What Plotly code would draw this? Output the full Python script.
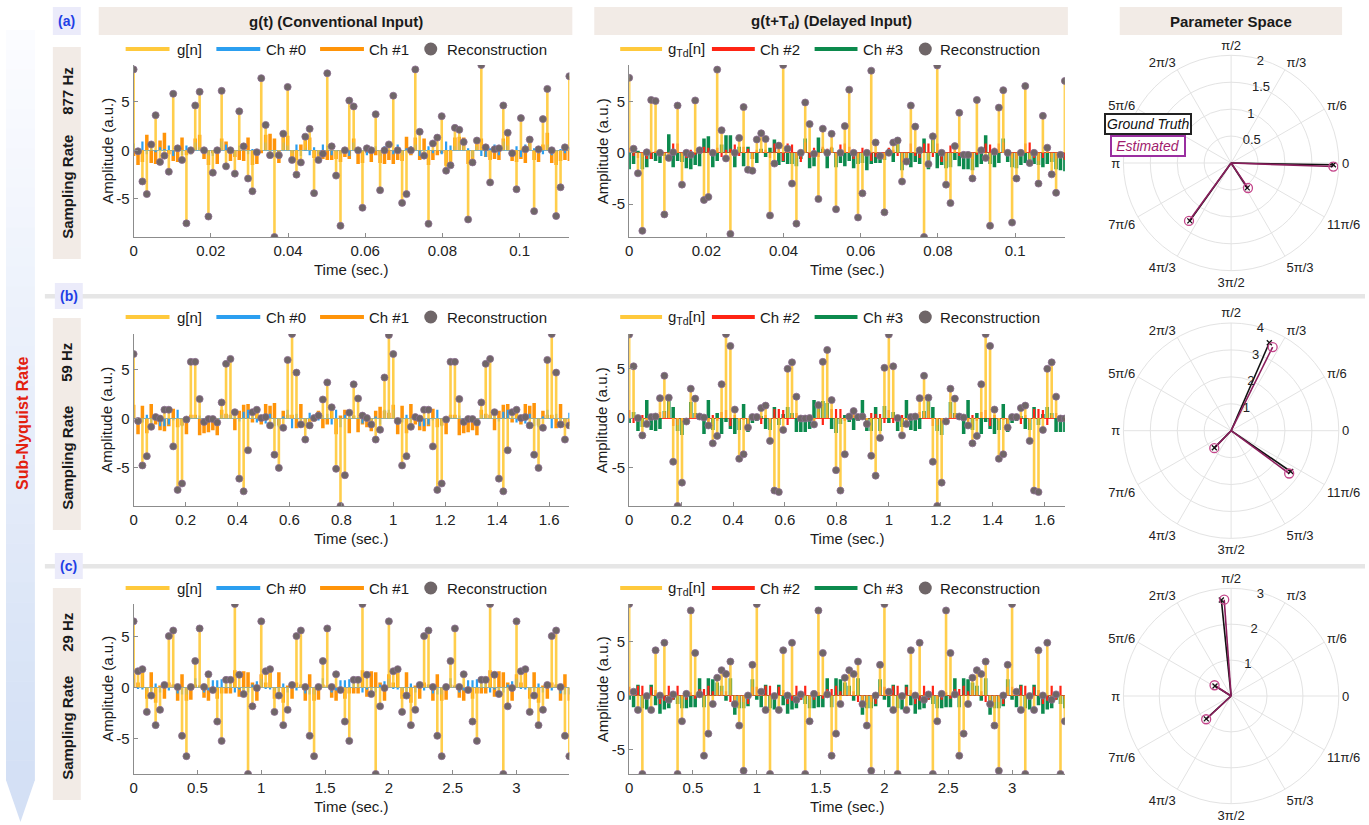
import plotly.graph_objects as go

W, H = 1369, 825
FONT = "Liberation Sans, Arial, Helvetica, sans-serif"

# ---------------- sampling rates ----------------
fs_a, fs_b, fs_c = 877.0, 59.0, 29.0

# ---------------- row (a): 877 Hz ----------------
g_a = [8.3, -0.1, -3.2, -4.5, 0.6, 3.6, -1.2, -0.55, -2.2, 5.8,
       0.2, -1.0, -7.5, 0.0, 4.6, 6.0, 0.0, -6.8, -2.3, 0.0,
       6.1, -1.65, 0.0, -2.4, 4.0, 0.4, -2.9, -4.2, -0.2, 7.4,
       2.6, -0.5, -8.9, -0.5, 1.7, 6.5, -1.0, -2.5, -1.25, 1.4,
       2.2, -4.4, -1.0, -0.35, 7.9, 0.4, -2.6, -7.75, 0.0, 5.1,
       4.5, 0.0, -5.9, 0.2, 0.0, 3.7, -4.1, 0.0, 0.6, 5.6,
       0.0, -5.4, -4.5, 0.0, 8.3, 1.9, -0.55, -7.55, 0.7, 1.3,
       3.5, -2.1, -1.55, 2.3, 2.1, 0.85, -7.1, -1.25, 1.0, 8.75,
       0.3, -3.3, 0.1, 0.2, 4.6, 1.8, -0.3, -4.0, 3.3, 0.1,
       1.1, -6.25, 0.1, 3.2, 6.3, 0.0, -6.75, -3.8, 0.3, 7.6]
ch0_a = [0.7, -0.3, 0.9, -0.4, 0.9, -0.2, 0.3, 0.1, 0.5, -0.6,
         0.4, -0.5, 0.5, -0.4, 0.8, 0.3, 0.2, -0.5, -0.6, 0.3,
         0.9, 0.6, 0.0, -0.6, 0.5, 0.4, -0.4, 0.1, -0.2, 0.0,
         0.8, -0.7, -0.7, -0.6, 0.8, 0.5, -0.3, 0.6, -0.6, 0.2,
         -0.5, 0.3, -0.4, 0.6, 0.5, -0.5, -0.2, -0.4, 0.3, -0.6,
         0.8, 0.3, -0.2, -0.5, 0.2, 0.4, -0.6, 0.4, 0.0, -0.4,
         0.6, -0.5, 0.2, 0.4, 0.6, -0.6, -0.4, 0.4, -0.3, 0.0,
         -0.4, 0.9, 0.5, 0.4, 0.8, 0.5, 0.2, -0.7, 0.4, -0.6,
         -0.7, 0.2, 0.6, -0.5, 0.9, 0.5, -0.5, 0.4, -0.7, 0.6,
         0.7, 0.2, -0.3, -0.4, 0.6, -0.5, -0.2, 0.1, -0.3, 0.3]
ch1_a = [-0.6, -1.5, -1.2, 1.6, -1.3, -1.4, 1.0, 1.8, -0.4, -1.1,
         -1.2, 1.3, -0.5, -0.4, 1.2, 1.6, -0.9, -1.5, -0.3, -1.4,
         1.2, 0.9, -1.1, -0.7, -1.0, -1.1, 1.3, -1.5, -1.4, -0.3,
         1.6, 1.7, 1.2, -1.3, 1.8, 1.5, -1.1, -1.0, 0.6, 1.4,
         1.3, -0.8, -1.2, -0.9, -1.0, -1.0, -0.9, -1.2, -0.7, -0.9,
         1.2, -1.4, -1.3, -0.3, -1.2, -0.5, -1.3, -1.4, -1.0, -1.4,
         -1.0, -1.1, 1.4, -0.5, 1.3, -1.0, 1.2, -1.5, -1.0, -0.5,
         -0.3, -1.6, -1.5, 1.3, 1.4, 1.3, -1.4, -0.9, 1.0, 1.2,
         -0.7, -1.0, -0.9, -1.0, 1.2, 1.5, -1.1, -1.2, -0.9, -1.3,
         1.3, -1.0, -1.2, 0.6, 1.8, -1.3, -1.5, -1.1, -1.0, -1.1]
gtd_a = [7.3, 0.4, -2.0, -7.6, 0.05, 5.15, 5.05, 0.0, -6.0, -0.5,
         0.05, 4.6, -3.1, 0.0, -0.2, 5.1, 0.25, -4.6, -4.3, 0.0,
         8.1, 2.2, -0.55, -7.9, 0.0, 1.45, 4.45, -1.65, -1.75, 1.3,
         1.9, 1.35, -6.1, -1.05, 0.7, 8.55, 0.4, -3.0, -6.9, 0.0,
         4.9, 2.8, -0.1, -4.5, 2.35, 0.0, 1.85, -5.5, 0.0, 2.6,
         6.15, 0.0, -6.3, -3.95, 0.0, 8.0, 1.0, -0.3, -5.8, 0.0,
         1.0, 1.2, -2.8, -0.85, 4.6, 2.55, 0.25, -8.2, -1.1, 1.6,
         8.5, 0.0, -3.1, -4.9, 0.65, 3.9, -0.2, -0.2, -2.5, 5.15,
         0.25, -0.5, -7.1, 0.1, 4.4, 6.1, 0.0, -6.8, -2.5, 0.0,
         6.5, -1.0, 0.0, -3.0, 3.6, 0.5, -2.1, -3.9, -0.2, 7.0]
ch2_a = [0.5, -0.3, -0.5, -0.4, -0.6, -0.6, 0.1, 0.3, -0.2, -0.6,
         0.9, 0.9, -0.3, -0.5, 0.3, -0.2, 0.5, 0.6, 0.5, 0.3,
         0.5, -0.4, 0.3, 0.4, 0.8, -0.3, 0.6, 0.4, -0.6, 0.3,
         0.3, 0.3, -0.5, 0.9, 0.9, -0.8, 0.9, 0.8, -0.5, -0.9,
         1.0, -0.5, 0.5, -0.4, 0.6, 0.4, 0.6, -0.5, 0.8, 0.9,
         0.6, -0.6, -0.5, 0.5, 0.3, -0.8, -0.4, -0.6, -0.6, 0.5,
         0.3, -0.3, -0.9, -0.7, 0.9, -0.3, -0.5, 0.9, 0.9, -0.4,
         0.9, -0.9, -0.8, 0.7, 0.3, -0.3, -0.4, -0.4, -0.6, -0.2,
         0.3, 0.9, 0.8, 0.5, 0.9, 1.0, 0.3, -0.5, -0.6, 0.3,
         0.9, 1.0, -0.5, -0.8, -0.5, 0.3, -0.5, -0.6, -0.4, -0.7]
ch3_a = [-1.6, -1.1, 0.2, -1.6, -1.4, -0.6, -0.8, -1.0, -0.3, 1.8,
         -1.4, -0.8, -0.9, -1.5, -1.6, -1.2, -1.3, 1.4, 1.6, -1.4,
         -0.8, 0.8, 1.7, 1.7, -1.4, 0.6, -1.3, 0.6, -0.6, -1.0,
         0.4, -0.4, 0.5, 1.3, -1.2, -0.9, -1.1, -1.1, -1.3, -0.6,
         1.4, -1.5, -1.3, 1.5, 0.4, -1.5, 0.5, -1.4, -1.0, -1.3,
         -0.8, -1.5, -1.1, -1.0, -1.7, -1.1, -1.0, -1.0, -0.7, 0.4,
         -0.9, 1.5, -1.7, -0.8, -1.4, -0.9, -1.1, 1.4, -1.6, 1.5,
         -1.5, -1.2, -1.5, -1.4, -0.7, -1.3, -1.6, -1.6, -1.7, -1.4,
         -1.1, 1.7, -1.1, -1.4, -1.0, 1.4, -0.9, -1.4, -1.5, -1.2,
         -1.0, -1.3, -1.1, -1.2, -1.4, -1.1, -0.9, -1.6, -1.7, -1.8]

# ---------------- row (b): 59 Hz ----------------
g_b = [6.6, -0.25, -4.8, -3.85, -0.85, 0.15, 0.0, 0.9, 0.9, -2.85,
       -7.3, -6.65, -0.1, 5.8, 5.8, 2.0, -0.35, -0.05, -0.05, -0.4,
       1.65, 5.6, 6.1, 0.65, -6.15, -7.45, -3.25, 0.65, 0.9, 0.05,
       0.15, -0.7, -3.7, -5.05, -0.95, 6.0, 8.65, 4.7, -0.6, -2.15,
       -0.7, 0.05, 0.3, 1.95, 3.7, 1.15, -5.15, -8.95, -5.8, 0.6,
       3.5, 2.05, 0.3, 0.05, -0.6, -2.15, -1.15, 4.2, 8.55, 6.6,
       -0.25, -4.8, -3.85, -0.85, 0.15, 0.0, 0.9, 0.9, -2.85, -7.3,
       -6.65, -0.1, 5.8, 5.8, 2.0, -0.35, -0.05, -0.05, -0.4, 1.65,
       5.6, 6.1, 0.65, -6.15, -7.45, -3.25, 0.65, 0.9, 0.05, 0.15,
       -0.7, -3.7, -5.05, -0.95, 6.0, 8.65, 4.7, -0.6, -2.15, -0.7]
ch0_b = [0.9, -0.6, -0.4, 0.4, -0.9, 0.1, -0.8, -0.8, -0.6, -0.2,
         0.9, -0.8, -0.2, 0.2, 0.2, 0.3, -0.2, -0.3, 0.1, -0.4,
         0.4, 0.4, 0.4, 0.8, -0.3, 0.7, 0.9, 0.8, -0.4, 0.1,
         -0.5, 0.5, -0.8, -0.9, 0.2, 0.9, -1.0, 0.5, -0.5, -0.8,
         0.6, 0.3, -0.2, 0.3, 0.5, -0.6, 0.9, -0.9, 0.4, 0.5,
         0.3, 0.1, -0.5, 0.2, -0.8, 0.2, -0.6, 0.9, 0.9, 0.9,
         -0.6, -0.4, 0.4, -0.9, 0.1, -0.8, -0.8, -0.6, -0.2, 0.9,
         -0.8, -0.2, 0.2, 0.2, 0.3, -0.2, -0.3, 0.1, -0.4, 0.4,
         0.4, 0.4, 0.8, -0.3, 0.7, 0.9, 0.8, -0.4, 0.1, -0.5,
         0.5, -0.8, -0.9, 0.2, 0.9, -1.0, 0.5, -0.5, -0.8, 0.6]
ch1_b = [1.4, -1.6, 1.3, -1.5, 1.5, -0.6, -1.2, -1.3, -0.8, 1.0,
         -0.9, -0.7, -1.6, 0.4, 0.4, -1.7, -1.5, -1.4, -1.2, -1.7,
         0.9, 0.5, 0.4, -1.2, 0.8, 1.4, 1.5, -0.4, 0.9, -0.6,
         1.5, 1.3, 1.6, -0.7, 0.8, 0.4, 0.4, -1.0, 1.5, -0.9,
         -0.8, -0.3, 0.8, -1.0, -0.6, 1.2, -1.6, 0.3, 0.9, -1.5,
         0.3, -1.4, -0.6, -0.9, -1.3, 0.8, 1.2, 0.8, 0.6, 1.4,
         -1.6, 1.3, -1.5, 1.5, -0.6, -1.2, -1.3, -0.8, 1.0, -0.9,
         -0.7, -1.6, 0.4, 0.4, -1.7, -1.5, -1.4, -1.2, -1.7, 0.9,
         0.5, 0.4, -1.2, 0.8, 1.4, 1.5, -0.4, 0.9, -0.6, 1.5,
         1.3, 1.6, -0.7, 0.8, 0.4, 0.4, -1.0, 1.5, -0.9, -0.8]
gtd_b = [8.4, 5.2, 0.0, -1.75, -0.6, 0.1, 0.15, 2.0, 4.25, 2.05,
         -4.4, -8.85, -6.5, -0.35, 2.95, 1.95, 0.15, 0.05, -0.75, -2.55,
         -1.8, 3.4, 8.45, 7.25, 0.85, -4.1, -3.65, -0.95, 0.1, 0.1,
         1.0, 1.25, -2.3, -7.3, -7.45, -1.2, 4.95, 5.6, 2.15, -0.05,
         -0.05, 0.0, -0.65, 1.3, 5.65, 6.85, 1.8, -5.25, -7.3, -3.65,
         0.15, 0.7, 0.1, 0.15, -0.6, -3.8, -5.8, -2.0, 5.05, 8.4,
         5.2, 0.0, -1.75, -0.6, 0.1, 0.15, 2.0, 4.25, 2.05, -4.4,
         -8.85, -6.5, -0.35, 2.95, 1.95, 0.15, 0.05, -0.75, -2.55, -1.8,
         3.4, 8.45, 7.25, 0.85, -4.1, -3.65, -0.95, 0.1, 0.1, 1.0,
         1.25, -2.3, -7.3, -7.45, -1.2, 4.95, 5.6, 2.15, -0.05, -0.05]
ch2_b = [0.8, -0.5, 0.0, 0.3, -0.4, 0.1, 0.2, 0.6, 0.6, 0.7,
         -0.8, -0.7, -0.3, -0.5, 0.5, 0.4, 0.1, 0.2, -0.4, 0.3,
         -0.3, 0.6, 0.8, -0.8, 0.3, -0.3, -0.2, -0.6, 0.3, 0.2,
         -0.6, 0.3, -0.5, 0.9, 0.9, 0.8, -0.7, 0.3, 0.5, -0.2,
         -0.3, -0.2, -0.3, 0.6, -0.7, 0.3, 0.9, 0.9, 0.9, -0.3,
         0.4, 0.4, 0.3, 0.2, -0.2, 0.5, 0.4, 0.4, -0.5, 0.8,
         -0.5, 0.0, 0.3, -0.4, 0.1, 0.2, 0.6, 0.6, 0.7, -0.8,
         -0.7, -0.3, -0.5, 0.5, 0.4, 0.1, 0.2, -0.4, 0.3, -0.3,
         0.6, 0.8, -0.8, 0.3, -0.3, -0.2, -0.6, 0.3, 0.2, -0.6,
         0.3, -0.5, 0.9, 0.9, 0.8, -0.7, 0.3, 0.5, -0.2, -0.3]
ch3_b = [-0.5, 0.6, -1.3, -0.9, 1.8, -1.2, -1.3, -1.1, 0.7, 1.7,
         1.1, -1.3, -1.7, -0.2, 1.6, 0.5, 0.3, -1.6, 1.8, -1.2,
         0.5, -1.6, -0.4, -1.1, -1.6, -1.2, 1.4, -1.4, -0.5, -0.3,
         0.2, -1.1, -1.2, 1.1, -0.7, 0.4, 1.1, 0.5, -1.4, -1.4,
         -1.4, -1.1, 1.8, 1.3, 1.7, 1.5, -1.1, -1.5, -0.6, 0.3,
         -0.4, -1.2, -0.3, 1.8, -1.3, -1.3, 1.1, -1.3, 1.2, -0.5,
         0.6, -1.3, -0.9, 1.8, -1.2, -1.3, -1.1, 0.7, 1.7, 1.1,
         -1.3, -1.7, -0.2, 1.6, 0.5, 0.3, -1.6, 1.8, -1.2, 0.5,
         -1.6, -0.4, -1.1, -1.6, -1.2, 1.4, -1.4, -0.5, -0.3, 0.2,
         -1.1, -1.2, 1.1, -0.7, 0.4, 1.1, 0.5, -1.4, -1.4, -1.4]

# ---------------- row (c): 29 Hz ----------------
g_c = [6.5, 1.6, 1.8, -2.4, -0.8, -3.7, -2.2, 0.25, 5.05, 5.6, 0.05, -4.75, -6.75, 0.05, 2.6, 5.8, 0.05, 1.3, -0.25, -3.35, -5.25, 0.75, 0.75, 8.2, 1.25, -0.65, -8.5, -1.85, -0.05,
       6.5, 1.6, 1.8, -2.4, -0.8, -3.7, -2.2, 0.25, 5.05, 5.6, 0.05, -4.75, -6.75, 0.05, 2.6, 5.8, 0.05, 1.3, -0.25, -3.35, -5.25, 0.75, 0.75, 8.2, 1.25, -0.65, -8.5, -1.85, -0.05,
       6.5, 1.6, 1.8, -2.4, -0.8, -3.7, -2.2, 0.25, 5.05, 5.6, 0.05, -4.75, -6.75, 0.05, 2.6, 5.8, 0.05, 1.3, -0.25, -3.35, -5.25, 0.75, 0.75, 8.2, 1.25, -0.65, -8.5, -1.85, -0.05,
       6.5, 1.6, 1.8, -2.4, -0.8, -3.7, -2.2, 0.25, 5.05, 5.6, 0.05, -4.75, -6.75]
ch0_c = [0.85, -0.1, -0.2, -0.3, -0.5, 0.4, -0.5, 0.3, -0.3, 0.3, -0.6, -0.7, -0.7, 0.1, 0.9, 0.2, -0.5, -0.3, 0.7, 0.7, 0.8, 0.8, 0.7, -0.5, -0.2, -0.6, -0.5, 0.3, 0.6,
         0.85, -0.1, -0.2, -0.3, -0.5, 0.4, -0.5, 0.3, -0.3, 0.3, -0.6, -0.7, -0.7, 0.1, 0.9, 0.2, -0.5, -0.3, 0.7, 0.7, 0.8, 0.8, 0.7, -0.5, -0.2, -0.6, -0.5, 0.3, 0.6,
         0.85, -0.1, -0.2, -0.3, -0.5, 0.4, -0.5, 0.3, -0.3, 0.3, -0.6, -0.7, -0.7, 0.1, 0.9, 0.2, -0.5, -0.3, 0.7, 0.7, 0.8, 0.8, 0.7, -0.5, -0.2, -0.6, -0.5, 0.3, 0.6,
         0.85, -0.1, -0.2, -0.3, -0.5, 0.4, -0.5, 0.3, -0.3, 0.3, -0.6, -0.7, -0.7]
ch1_c = [1.3, 0.5, 1.5, -1.1, 1.5, -1.5, 0.2, -1.1, 0.5, 0.3, -1.3, 1.3, -1.3, -1.2, 0.3, 0.2, -1.0, -1.3, -0.5, -1.1, -0.6, -0.6, -0.6, 1.7, -0.9, 1.6, 1.5, 0.5, -1.3,
         1.3, 0.5, 1.5, -1.1, 1.5, -1.5, 0.2, -1.1, 0.5, 0.3, -1.3, 1.3, -1.3, -1.2, 0.3, 0.2, -1.0, -1.3, -0.5, -1.1, -0.6, -0.6, -0.6, 1.7, -0.9, 1.6, 1.5, 0.5, -1.3,
         1.3, 0.5, 1.5, -1.1, 1.5, -1.5, 0.2, -1.1, 0.5, 0.3, -1.3, 1.3, -1.3, -1.2, 0.3, 0.2, -1.0, -1.3, -0.5, -1.1, -0.6, -0.6, -0.6, 1.7, -0.9, 1.6, 1.5, 0.5, -1.3,
         1.3, 0.5, 1.5, -1.1, 1.5, -1.5, 0.2, -1.1, 0.5, 0.3, -1.3, 1.3, -1.3]
gtd_c = [8.5, 0.35, -1.35, -7.3, -0.05, -1.35, 4.2, 0.0, 4.9, -0.4, 0.1, -7.3, -2.4, 0.15, 7.9, 3.95, 0.1, -5.6, -3.55, -0.8, 1.65, 2.35, 2.0, 3.15, -0.8, -2.8, -7.0, 0.0, 2.85,
         8.5, 0.35, -1.35, -7.3, -0.05, -1.35, 4.2, 0.0, 4.9, -0.4, 0.1, -7.3, -2.4, 0.15, 7.9, 3.95, 0.1, -5.6, -3.55, -0.8, 1.65, 2.35, 2.0, 3.15, -0.8, -2.8, -7.0, 0.0, 2.85,
         8.5, 0.35, -1.35, -7.3, -0.05, -1.35, 4.2, 0.0, 4.9, -0.4, 0.1, -7.3, -2.4, 0.15, 7.9, 3.95, 0.1, -5.6, -3.55, -0.8, 1.65, 2.35, 2.0, 3.15, -0.8, -2.8, -7.0, 0.0, 2.85,
         8.5, 0.35, -1.35, -7.3, -0.05, -1.35, 4.2, 0.0, 4.9, -0.4, 0.1, -7.3, -2.4]
ch2_c = [0.8, 0.3, 0.9, 0.9, -0.3, 0.8, 0.5, -0.8, -0.5, 0.9, -0.4, 0.9, -0.3, -0.4, 0.3, -0.3, 0.6, 0.6, 0.9, 0.4, 0.5, 0.4, 0.4, -0.6, -0.6, -0.6, -0.6, -0.8, 0.8,
         0.8, 0.3, 0.9, 0.9, -0.3, 0.8, 0.5, -0.8, -0.5, 0.9, -0.4, 0.9, -0.3, -0.4, 0.3, -0.3, 0.6, 0.6, 0.9, 0.4, 0.5, 0.4, 0.4, -0.6, -0.6, -0.6, -0.6, -0.8, 0.8,
         0.8, 0.3, 0.9, 0.9, -0.3, 0.8, 0.5, -0.8, -0.5, 0.9, -0.4, 0.9, -0.3, -0.4, 0.3, -0.3, 0.6, 0.6, 0.9, 0.4, 0.5, 0.4, 0.4, -0.6, -0.6, -0.6, -0.6, -0.8, 0.8,
         0.8, 0.3, 0.9, 0.9, -0.3, 0.8, 0.5, -0.8, -0.5, 0.9, -0.4, 0.9, -0.3]
ch3_c = [-0.4, -1.1, 1.0, -1.2, -1.3, 1.0, -0.9, -1.7, -1.3, -1.2, -0.4, -0.8, -1.2, -1.2, -1.1, -1.1, 1.6, -1.1, 1.6, 1.5, 1.2, 0.9, -0.5, 1.6, -1.8, -1.2, -1.2, -1.0, 1.5,
         -0.4, -1.1, 1.0, -1.2, -1.3, 1.0, -0.9, -1.7, -1.3, -1.2, -0.4, -0.8, -1.2, -1.2, -1.1, -1.1, 1.6, -1.1, 1.6, 1.5, 1.2, 0.9, -0.5, 1.6, -1.8, -1.2, -1.2, -1.0, 1.5,
         -0.4, -1.1, 1.0, -1.2, -1.3, 1.0, -0.9, -1.7, -1.3, -1.2, -0.4, -0.8, -1.2, -1.2, -1.1, -1.1, 1.6, -1.1, 1.6, 1.5, 1.2, 0.9, -0.5, 1.6, -1.8, -1.2, -1.2, -1.0, 1.5,
         -0.4, -1.1, 1.0, -1.2, -1.3, 1.0, -0.9, -1.7, -1.3, -1.2, -0.4, -0.8, -1.2]

# ---------------- parameter space (polar) ----------------
gt_a_r, gt_a_th = [1.90, 0.55, 1.32], [-1.0, -57.0, 234.5]
est_a_r, est_a_th = [1.90, 0.56, 1.33], [-2.0, -56.0, 234.0]
gt_b_r, gt_b_th = [3.56, 2.68, 0.89], [66.5, -34.4, 225.6]
est_b_r, est_b_th = [3.47, 2.68, 0.90], [63.6, -36.4, 226.0]
gt_c_r, gt_c_th = [2.69, 0.53, 0.94], [95.8, 148.0, 222.6]
est_c_r, est_c_th = [2.69, 0.55, 0.95], [94.1, 147.0, 223.0]
polar_rmax = [2, 4, 3]
polar_rticks = [[0.5, 1, 1.5, 2], [1, 2, 3, 4], [1, 2, 3]]
ang_vals = [0, 30, 60, 90, 120, 150, 180, 210, 240, 270, 300, 330]
ang_text = ["0", "π/6", "π/3", "π/2", "2π/3", "5π/6", "π", "7π/6", "4π/3", "3π/2", "5π/3", "11π/6"]

xtick_vals = {"a": [0, 0.02, 0.04, 0.06, 0.08, 0.1],
              "b": [0, 0.2, 0.4, 0.6, 0.8, 1.0, 1.2, 1.4, 1.6],
              "c": [0, 0.5, 1.0, 1.5, 2.0, 2.5, 3.0]}
xtick_text = {"a": ["0", "0.02", "0.04", "0.06", "0.08", "0.1"],
              "b": ["0", "0.2", "0.4", "0.6", "0.8", "1", "1.2", "1.4", "1.6"],
              "c": ["0", "0.5", "1", "1.5", "2", "2.5", "3"]}
rate_text = {"a": "877 Hz", "b": "59 Hz", "c": "29 Hz"}

# ---------------- styling ----------------
C_G = "rgba(255,198,45,0.85)"
C_G_LEG = "#ffc93c"
C_CH0 = "#2b9ff0"
C_CH1 = "#ff9409"
C_CH2 = "#ff2414"
C_CH3 = "#0c8a4d"
C_REC = "#6f6668"
C_AX = "#8c8c8c"
BEIGE = "#f2ebe6"


def X(px):
    return px / W


def Y(py):
    return 1 - py / H


LEFT_X = (130, 567)
RIGHT_X = (627, 1064)
ROW_Y = {"a": (65, 237), "b": (334, 506), "c": (604, 774)}
LEG_Y = {"a": 49, "b": 317, "c": 588}
BEIGE_Y = {"a": (47, 259), "b": (318, 530), "c": (588, 800)}
POLAR_CY = {"a": 163.0, "b": 430.7, "c": 696.0}
POLAR_CX, POLAR_R = 1230.7, 108

panels = [
    ("a", "L", fs_a, g_a, ch0_a, ch1_a),
    ("a", "R", fs_a, gtd_a, ch2_a, ch3_a),
    ("b", "L", fs_b, g_b, ch0_b, ch1_b),
    ("b", "R", fs_b, gtd_b, ch2_b, ch3_b),
    ("c", "L", fs_c, g_c, ch0_c, ch1_c),
    ("c", "R", fs_c, gtd_c, ch2_c, ch3_c),
]

fig = go.Figure()
layout = dict(width=W, height=H, margin=dict(l=0, r=0, t=0, b=0),
              paper_bgcolor="white", plot_bgcolor="white",
              showlegend=False, barmode="overlay",
              font=dict(family=FONT, color="#222"))
shapes = []
annotations = []


def ann(x, y, text, size=15, color="#1a1a1a", angle=0, xanchor="center", **kw):
    d = dict(x=X(x), y=Y(y), xref="paper", yref="paper", text=text, showarrow=False,
             font=dict(size=size, color=color, family=FONT), textangle=angle,
             xanchor=xanchor, yanchor="middle")
    d.update(kw)
    annotations.append(d)


def rect(x0, y0, x1, y1, color, line=None):
    d = dict(type="rect", xref="paper", yref="paper", x0=X(x0), x1=X(x1), y0=Y(y1), y1=Y(y0),
             fillcolor=color, line=dict(width=0), layer="below")
    if line:
        d["line"] = line
    shapes.append(d)


for k, (row, side, fs, g, chn, chw) in enumerate(panels, start=1):
    xa = "x" if k == 1 else f"x{k}"
    ya = "y" if k == 1 else f"y{k}"
    t = [i / fs for i in range(len(g))]
    tn = [i / fs for i in range(len(chn))]
    tw = [i / fs for i in range(len(chw))]
    narrow_col, wide_col = (C_CH0, C_CH1) if side == "L" else (C_CH2, C_CH3)
    fig.add_trace(go.Bar(x=tw, y=chw, width=0.8 / fs, marker=dict(color=wide_col, line=dict(width=0)),
                         xaxis=xa, yaxis=ya, hoverinfo="skip"))
    fig.add_trace(go.Bar(x=tn, y=chn, width=0.5 / fs, marker=dict(color=narrow_col, line=dict(width=0)),
                         xaxis=xa, yaxis=ya, hoverinfo="skip"))
    sx, sy = [], []
    for ti, gi in zip(t, g):
        sx += [ti, ti, None]
        sy += [0, gi, None]
    fig.add_trace(go.Scatter(x=sx, y=sy, mode="lines", line=dict(color=C_G, width=2.6),
                             xaxis=xa, yaxis=ya, hoverinfo="skip"))
    fig.add_trace(go.Scatter(x=t, y=g, mode="markers",
                             marker=dict(size=7, color=C_REC, line=dict(color="#8d6f90", width=0.8)),
                             xaxis=xa, yaxis=ya))
    x0, x1 = LEFT_X if side == "L" else RIGHT_X
    y0, y1 = ROW_Y[row]
    tick_font = dict(size=15, color="#222", family=FONT)
    layout["xaxis" if k == 1 else f"xaxis{k}"] = dict(
        domain=[X(x0), X(x1)], range=[0, t[-1]], anchor=ya,
        showline=True, linecolor=C_AX, linewidth=1, ticks="inside", ticklen=4, tickcolor=C_AX,
        tickvals=xtick_vals[row], ticktext=xtick_text[row], tickfont=tick_font,
        showgrid=False, zeroline=False)
    layout["yaxis" if k == 1 else f"yaxis{k}"] = dict(
        domain=[Y(y1), Y(y0)], range=[min(g), max(g)], anchor=xa,
        showline=True, linecolor=C_AX, linewidth=1, ticks="inside", ticklen=4, tickcolor=C_AX,
        tickvals=[-5, 0, 5], ticktext=["-5", "0", "5"], tickfont=tick_font,
        showgrid=False, zeroline=True,
        zerolinecolor=("#5fb3ea" if side == "L" else "#ff3a2a"), zerolinewidth=1)
    # axis titles
    ann(x0 - 27, (y0 + y1) / 2, "Amplitude (a.u.)", size=15, angle=-90)
    ann((x0 + x1) / 2, y1 + 32, "Time (sec.)", size=15)

    # manual legend
    ly = LEG_Y[row]
    if side == "L":
        items = [(122, 166, C_G_LEG, "g[n]", 171), (213, 257, C_CH0, "Ch #0", 261),
                 (317, 361, C_CH1, "Ch #1", 364)]
        cx, tx = 428, 442
    else:
        items = [(618, 660, C_G_LEG, "g<sub>Td</sub>[n]", 664), (710, 753, C_CH2, "Ch #2", 756),
                 (813, 856, C_CH3, "Ch #3", 860)]
        cx, tx = 924, 937
    for (lx0, lx1, col, txt, txx) in items:
        shapes.append(dict(type="line", xref="paper", yref="paper", x0=X(lx0), x1=X(lx1),
                           y0=Y(ly), y1=Y(ly), line=dict(color=col, width=4)))
        ann(txx, ly, txt, size=15, xanchor="left")
    shapes.append(dict(type="circle", xref="paper", yref="paper", x0=X(cx - 6.5), x1=X(cx + 6.5),
                       y0=Y(ly + 6.5), y1=Y(ly - 6.5), fillcolor=C_REC, line=dict(width=0)))
    ann(tx, ly, "Reconstruction", size=15, xanchor="left")

# ---------------- polar subplots ----------------
polar_sets = [("a", gt_a_r, gt_a_th, est_a_r, est_a_th),
              ("b", gt_b_r, gt_b_th, est_b_r, est_b_th),
              ("c", gt_c_r, gt_c_th, est_c_r, est_c_th)]
for i, (row, gr, gth, er, eth) in enumerate(polar_sets):
    pname = "polar" if i == 0 else f"polar{i + 1}"
    sub = pname
    lr, lth = [], []
    for r, th in zip(gr, gth):
        lr += [0, r, None]
        lth += [th, th, None]
    fig.add_trace(go.Scatterpolar(r=lr, theta=lth, mode="lines", line=dict(color="#111111", width=1.6),
                                  subplot=sub, hoverinfo="skip"))
    er_l, eth_l = [], []
    for r, th in zip(er, eth):
        er_l += [0, r, None]
        eth_l += [th, th, None]
    fig.add_trace(go.Scatterpolar(r=er_l, theta=eth_l, mode="lines", line=dict(color="#8a1d5c", width=1.6),
                                  subplot=sub, hoverinfo="skip"))
    fig.add_trace(go.Scatterpolar(r=gr, theta=gth, mode="markers",
                                  marker=dict(symbol="x-thin", size=5, line=dict(color="#111111", width=1.3)),
                                  subplot=sub))
    fig.add_trace(go.Scatterpolar(r=er, theta=eth, mode="markers",
                                  marker=dict(symbol="circle-open", size=9, color="#c4468b",
                                              line=dict(width=1.3)),
                                  subplot=sub))
    cy = POLAR_CY[row]
    rmax = polar_rmax[i]
    rt = polar_rticks[i]
    layout[pname] = dict(
        domain=dict(x=[X(POLAR_CX - POLAR_R), X(POLAR_CX + POLAR_R)],
                    y=[Y(cy + POLAR_R), Y(cy - POLAR_R)]),
        bgcolor="white",
        angularaxis=dict(tickmode="array", tickvals=ang_vals, ticktext=ang_text,
                         direction="counterclockwise", rotation=0,
                         showgrid=True, gridcolor="#e3e3e3", gridwidth=1,
                         showline=True, linecolor="#e3e3e3", linewidth=1, ticks="",
                         tickfont=dict(size=13, color="#222", family=FONT)),
        radialaxis=dict(range=[0, rmax], tickmode="array", tickvals=rt,
                        ticktext=[("%g" % v) for v in rt], angle=80, tickangle=80,
                        showline=False, showgrid=True, gridcolor="#e3e3e3", ticks="",
                        tickfont=dict(size=13, color="#222", family=FONT)))

# ---------------- decorations ----------------
# Sub-Nyquist arrow (gradient bands)
n_b = 38
top, bot = 30, 780
c0, c1 = (251, 252, 255), (212, 224, 245)
for j in range(n_b):
    f = j / (n_b - 1)
    col = "rgb(%d,%d,%d)" % tuple(round(c0[m] + (c1[m] - c0[m]) * f) for m in range(3))
    ya0 = top + (bot - top) * j / n_b
    ya1 = top + (bot - top) * (j + 1) / n_b + 0.5
    rect(2, ya0, 31, ya1, col)
shapes.append(dict(type="path", xref="paper", yref="paper",
                   path="M %f,%f L %f,%f L %f,%f Z" % (X(2), Y(780), X(31), Y(780), X(16.5), Y(822)),
                   fillcolor="rgb(212,224,245)", line=dict(width=0), layer="below"))
ann(18, 423, "<b>Sub-Nyquist Rate</b>", size=16, color="#e3200f", angle=-90)

# separators
rect(41, 294, 1365, 298.5, "#e6e6e6")
rect(41, 564, 1365, 568.5, "#e6e6e6")

# panel labels
for lab, (bx0, by0, bx1, by1) in {"(a)": (49, 7, 77, 35), "(b)": (51, 283, 79, 309),
                                   "(c)": (51, 553, 79, 579)}.items():
    rect(bx0, by0, bx1, by1, "#ebebfa")
    ann((bx0 + bx1) / 2, (by0 + by1) / 2, "<b>%s</b>" % lab, size=14, color="#1f3fe6")

# column titles
rect(95, 7, 570, 35, BEIGE)
ann(332.5, 21, "<b>g(t) (Conventional Input)</b>", size=15)
rect(592, 7, 1067, 35, BEIGE)
ann(829.5, 21, "<b>g(t+T<sub>d</sub>) (Delayed Input)</b>", size=15)
rect(1119, 7, 1342, 35, BEIGE)
ann(1230.5, 21, "<b>Parameter Space</b>", size=15)

# sampling-rate side boxes
for row in ["a", "b", "c"]:
    by0, by1 = BEIGE_Y[row]
    rect(49, by0, 77, by1, BEIGE)
    ann(63, by0 + 44, "<b>%s</b>" % rate_text[row], size=15, angle=-90)
    ann(63, by0 + 140, "<b>Sampling Rate</b>", size=15, angle=-90)

# polar legend boxes (row a)
ann(1147, 124, "<i>Ground Truth</i>", size=14, color="#111111",
    bordercolor="#222222", borderwidth=2, borderpad=1, bgcolor="white")
ann(1147, 146, "<i>Estimated</i>", size=14, color="#a01c6e",
    bordercolor="#9a2fa0", borderwidth=2, borderpad=1, bgcolor="white", width=70)

layout["shapes"] = shapes
layout["annotations"] = annotations
fig.update_layout(**layout)
fig.write_html("out.html", config={"displayModeBar": False},
               post_script="document.body.style.margin='0px';document.body.style.overflow='hidden';")
